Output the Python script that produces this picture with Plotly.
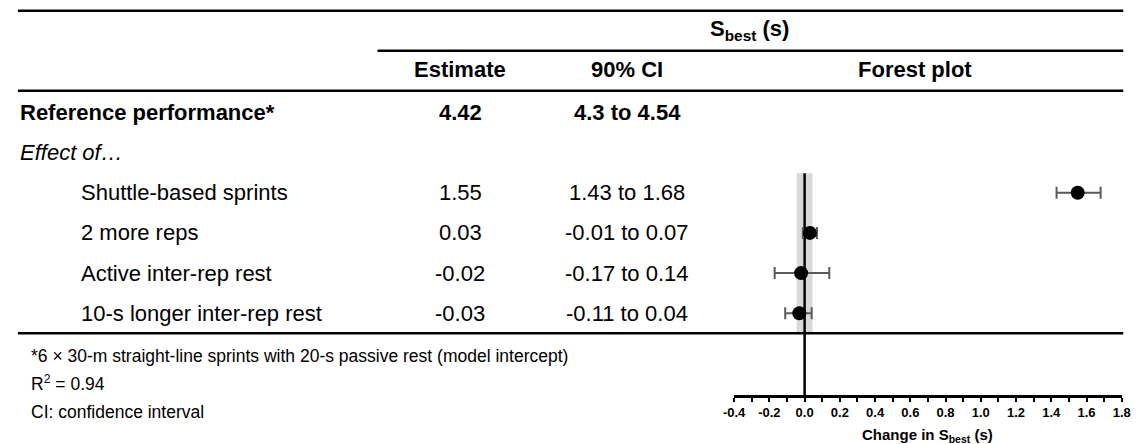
import plotly.graph_objects as go

# ---------------- data ----------------
labels = ["Shuttle-based sprints", "2 more reps", "Active inter-rep rest", "10-s longer inter-rep rest"]
estimates = [1.55, 0.03, -0.02, -0.03]
ci_low = [1.43, -0.01, -0.17, -0.11]
ci_high = [1.68, 0.07, 0.14, 0.04]

ref_label = "Reference performance*"
ref_estimate = 4.42
ref_low = 4.3
ref_high = 4.54

band_low = -0.045
band_high = 0.045

tick_vals = [-0.4, -0.2, 0.0, 0.2, 0.4, 0.6, 0.8, 1.0, 1.2, 1.4, 1.6, 1.8]
tick_text = ["-0.4", "-0.2", "0.0", "0.2", "0.4", "0.6", "0.8", "1.0", "1.2", "1.4", "1.6", "1.8"]

footnotes = [
    "*6 × 30-m straight-line sprints with 20-s passive rest (model intercept)",
    "R<sup>2</sup> = 0.94",
    "CI: confidence interval",
]

# ---------------- layout helpers ----------------
W, H = 1145, 444
FONT = "Liberation Sans, Arial, sans-serif"


def px(x):
    return x / W


def py(y):
    return 1 - y / H


AXIS_Y = 395.0
ROW0 = 112.3
PITCH = 40.2
r_bottom = (AXIS_Y - ROW0) / PITCH
r_top = -ROW0 / PITCH

X_LEFT, X_RIGHT = 736.0, 1130.5

fig = go.Figure()

rows = [2 + i for i in range(len(labels))]
fig.add_trace(go.Scatter(
    x=estimates, y=rows, mode="markers",
    marker=dict(size=14, color="black"),
    error_x=dict(type="data", symmetric=False,
                 array=[h - e for h, e in zip(ci_high, estimates)],
                 arrayminus=[e - l for e, l in zip(estimates, ci_low)],
                 color="#5a5a5a", thickness=2, width=6),
    cliponaxis=False, hoverinfo="skip", showlegend=False,
))

shapes = []
# horizontal rules
for x0, x1, y in [(7, 1132, 10.7), (373, 1132, 50.7), (7, 1132, 90.7), (7, 1132, 333.3)]:
    shapes.append(dict(type="line", xref="paper", yref="paper",
                       x0=px(x0), x1=px(x1), y0=py(y), y1=py(y),
                       line=dict(color="black", width=2.5)))
# grey band
shapes.append(dict(type="rect", xref="x", yref="paper",
                   x0=band_low, x1=band_high, y0=py(333.3), y1=py(173.3),
                   fillcolor="#d9d9d9", line=dict(width=0), layer="below"))
# zero line
shapes.append(dict(type="line", xref="x", yref="paper",
                   x0=0, x1=0, y0=py(AXIS_Y), y1=py(173.3),
                   line=dict(color="black", width=2.5), layer="below"))

ann = []


def text(x, y, s, size=22, bold=False, italic=False, anchor="center", yref="y"):
    ann.append(dict(
        x=px(x), y=y, xref="paper", yref=yref, text=s, showarrow=False,
        xanchor=anchor, yanchor="middle", borderpad=0,
        font=dict(family=FONT, size=size, color="black",
                  weight="bold" if bold else "normal",
                  style="italic" if italic else "normal"),
    ))


# headers
text(752, py(30), "S<sub>best</sub> (s)", bold=True, yref="paper")
text(457, py(70), "Estimate", bold=True, yref="paper")
text(627, py(70), "90% CI", bold=True, yref="paper")
text(920, py(70), "Forest plot", bold=True, yref="paper")

# reference row
text(8, 0, ref_label, bold=True, anchor="left")
text(457, 0, f"{ref_estimate:.2f}", bold=True)
text(627, 0, f"{ref_low:g} to {ref_high:g}", bold=True)

# effect of
text(8, 1, "Effect of…", italic=True, anchor="left")

for r, lab, e, lo, hi in zip(rows, labels, estimates, ci_low, ci_high):
    text(70, r, lab, anchor="left")
    text(457, r, f"{e:.2f}")
    text(627, r, f"{lo:g} to {hi:g}")

# footnotes
for y, s in zip([356, 383, 412], footnotes):
    text(19, py(y), s, size=17.5, anchor="left", yref="paper")

# axis title
text((X_LEFT + X_RIGHT) / 2, py(435), "<b>Change in S<sub>best</sub> (s)</b>", size=15, yref="paper")

fig.update_layout(
    width=W, height=H,
    margin=dict(l=0, r=0, t=0, b=0),
    paper_bgcolor="white", plot_bgcolor="white",
    shapes=shapes, annotations=ann,
    xaxis=dict(
        domain=[px(X_LEFT), px(X_RIGHT)], range=[-0.4, 1.8],
        showgrid=False, zeroline=False,
        showline=True, linecolor="black", linewidth=2.5,
        ticks="outside", ticklen=4, tickwidth=2, tickcolor="black",
        tickvals=tick_vals, ticktext=tick_text,
        tickfont=dict(family=FONT, size=13, color="black", weight="bold"),
        minor=dict(dtick=0.1, tick0=-0.4, ticks="outside", ticklen=4, tickwidth=2, tickcolor="black"),
        fixedrange=True,
    ),
    yaxis=dict(
        domain=[py(AXIS_Y), 1], range=[r_bottom, r_top],
        visible=False, showgrid=False, zeroline=False, fixedrange=True,
    ),
)

fig.write_html(
    "out.html",
    config={"displayModeBar": False},
    post_script="document.body.style.margin='0';document.body.style.overflow='hidden';",
)
